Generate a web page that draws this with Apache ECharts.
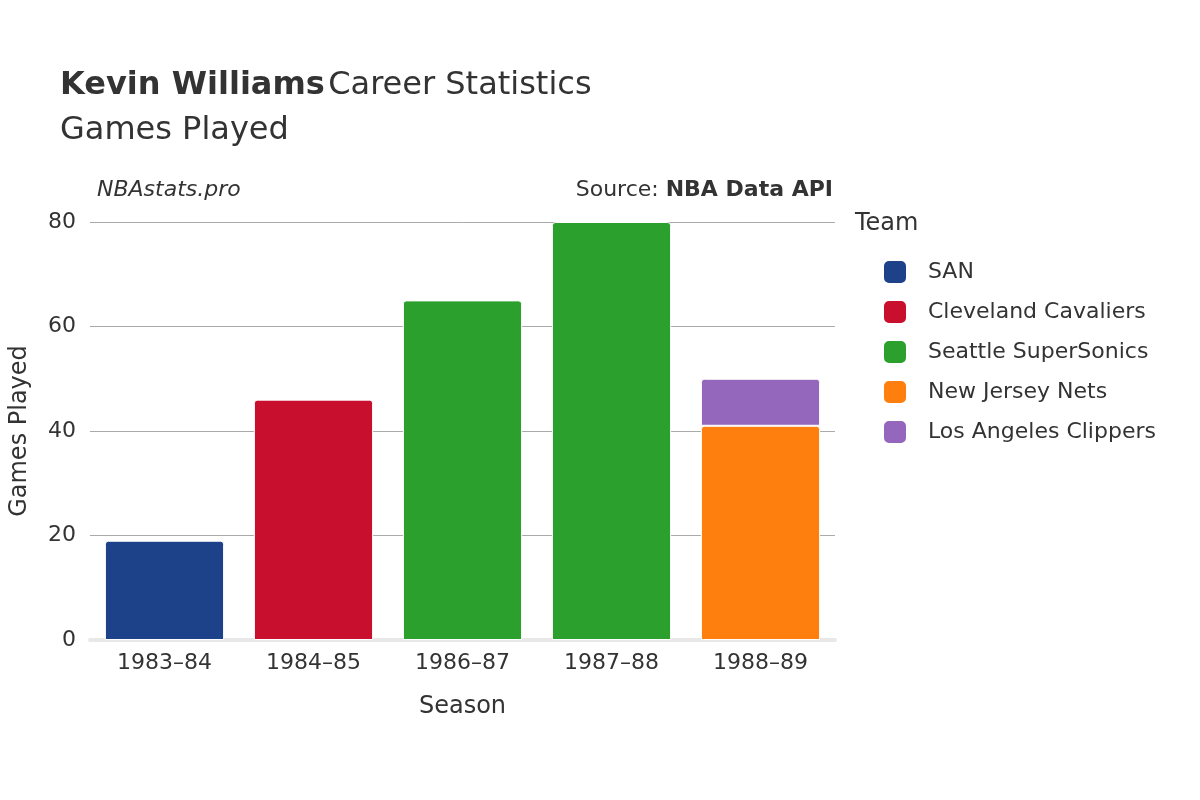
<!DOCTYPE html>
<html>
<head>
<meta charset="utf-8">
<script src="https://cdn.jsdelivr.net/npm/echarts@6/dist/echarts.min.js"></script>
<style>html,body{margin:0;padding:0;background:#fff}#main{width:1200px;height:800px}</style>
</head>
<body>
<div id="main"></div>
<script>
var seasons = ['1983–84', '1984–85', '1986–87', '1987–88', '1988–89'];
var teams = ['SAN', 'Cleveland Cavaliers', 'Seattle SuperSonics', 'New Jersey Nets', 'Los Angeles Clippers'];
var colors = ['#1d428a', '#c8102e', '#2ca02c', '#ff7f0e', '#9467bd'];
// games per team per season (null = did not play for that team)
var sanGames = [19, null, null, null, null];
var cleGames = [null, 46, null, null, null];
var seaGames = [null, null, 65, 80, null];
var njnGames = [null, null, null, null, 41];
var lacGames = [null, null, null, null, 9];
var yTicks = [0, 20, 40, 60, 80];

var allGames = [sanGames, cleGames, seaGames, njnGames, lacGames];
var font = 'DejaVu Sans';
var chart = echarts.init(document.getElementById('main'));

var series = teams.map(function (t, i) {
    return {
        name: t,
        type: 'bar',
        stack: 'games',
        data: allGames[i],
        barCategoryGap: '20%',
        itemStyle: {color: colors[i], borderColor: '#fff', borderWidth: 1, borderRadius: [3, 3, 0, 0]}
    };
});

chart.setOption({
    textStyle: {fontFamily: font},
    graphic: [
        {type: 'text', left: 60, top: 70, style: {rich: {b: {fontWeight: 'bold', fontSize: 32, fill: '#333', fontFamily: font}, n: {fontSize: 32, fill: '#333', fontFamily: font}}, text: '{b|Kevin Williams} {n|Career Statistics}'}},
        {type: 'text', left: 60, top: 115, style: {text: 'Games Played', fontSize: 32, fill: '#333', fontFamily: font}},
        {type: 'text', left: 97, top: 179, style: {text: 'NBAstats.pro', fontSize: 22, fontStyle: 'italic', fill: '#333', fontFamily: font}},
        {type: 'text', right: 367, top: 179, style: {rich: {n: {fontSize: 22, fill: '#333', fontFamily: font}, b: {fontSize: 22, fontWeight: 'bold', fill: '#333', fontFamily: font}}, text: '{n|Source: }{b|NBA Data API}', align: 'right'}},
        {type: 'text', left: 855, top: 212, style: {text: 'Team', fontSize: 24, fill: '#333', fontFamily: font}}
    ],
    legend: {
        orient: 'vertical', left: 877, top: 254, itemGap: 14, itemWidth: 24, itemHeight: 24,
        icon: 'roundRect', data: teams,
        textStyle: {fontSize: 22, color: '#333', padding: [0, 0, 0, 16]}
    },
    grid: {left: 90, right: 365, top: 222, bottom: 160},
    xAxis: {
        type: 'category', data: seasons, name: 'Season', nameLocation: 'middle', nameGap: 55,
        nameTextStyle: {fontSize: 24, color: '#333'},
        axisTick: {show: false},
        axisLine: {lineStyle: {color: '#e8e8e8', width: 4}},
        axisLabel: {fontSize: 22, color: '#333', margin: 12}
    },
    yAxis: {
        type: 'value', min: 0, max: 80, interval: 20, name: 'Games Played', nameLocation: 'middle', nameGap: 58,
        nameTextStyle: {fontSize: 24, color: '#333'},
        axisLabel: {fontSize: 22, color: '#333', margin: 14},
        splitLine: {lineStyle: {color: '#aaa'}}
    },
    series: series
});
</script>
</body>
</html>
